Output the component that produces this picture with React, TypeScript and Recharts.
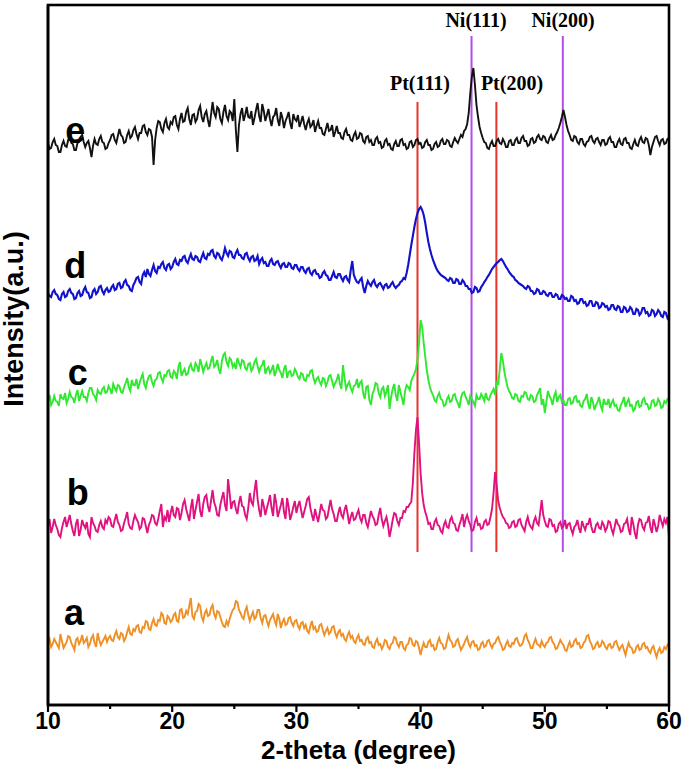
import React from 'react';
import { LineChart, Line, XAxis, YAxis, ReferenceLine, ReferenceDot } from 'recharts';

// 2-theta sampling: 10° .. 60° every 0.125°
const THETA_START = 10;
const THETA_STEP = 0.125;

// Stacked intensities (a.u., offsets included); one row = 5°
const seriesA = [
  62, 66, 58, 61, 66, 63, 60, 57, 71, 64, 57, 60, 63, 69, 68, 62, 59, 55, 65, 67, 61, 64, 70, 62, 64, 67, 58, 61, 67, 70, 62, 58, 72, 65, 60, 63, 66, 69, 63, 67,
  69, 65, 64, 70, 74, 68, 66, 72, 71, 64, 67, 73, 78, 71, 70, 76, 74, 79, 80, 73, 72, 78, 77, 84, 83, 76, 75, 82, 86, 80, 79, 85, 84, 92, 90, 82, 81, 89, 87, 83,
  85, 90, 92, 84, 83, 95, 96, 87, 88, 94, 91, 99, 107, 89, 86, 93, 94, 101, 99, 88, 84, 92, 95, 89, 90, 97, 100, 91, 87, 94, 93, 88, 83, 79, 78, 84, 80, 86, 91, 95,
  97, 104, 103, 95, 92, 88, 86, 94, 98, 90, 84, 89, 93, 86, 88, 95, 95, 87, 82, 89, 90, 84, 79, 85, 88, 91, 84, 80, 91, 86, 77, 83, 86, 80, 81, 87, 88, 82, 79, 84,
  85, 79, 76, 82, 83, 77, 80, 74, 72, 79, 84, 76, 78, 73, 74, 80, 81, 75, 70, 74, 77, 71, 73, 78, 79, 72, 68, 73, 75, 69, 71, 66, 64, 70, 73, 67, 69, 64, 62, 67,
  70, 64, 65, 61, 60, 66, 68, 62, 63, 58, 57, 63, 66, 60, 61, 56, 59, 65, 64, 58, 56, 61, 62, 68, 67, 61, 58, 63, 63, 57, 55, 60, 61, 67, 66, 60, 59, 64, 63, 57,
  50, 57, 62, 58, 58, 63, 65, 59, 60, 55, 56, 63, 67, 62, 61, 56, 57, 64, 70, 65, 63, 58, 59, 64, 66, 60, 55, 58, 61, 65, 68, 61, 58, 63, 64, 59, 60, 55, 56, 61,
  63, 58, 59, 64, 65, 60, 57, 61, 62, 66, 68, 63, 60, 55, 56, 61, 64, 59, 58, 62, 61, 66, 67, 62, 59, 60, 63, 69, 71, 65, 62, 57, 57, 62, 66, 61, 60, 58, 64, 60,
  58, 62, 63, 67, 68, 63, 61, 56, 57, 61, 65, 62, 60, 55, 54, 59, 63, 58, 59, 64, 66, 61, 62, 57, 58, 62, 64, 69, 70, 64, 61, 56, 57, 61, 63, 58, 59, 64, 62, 58,
  56, 60, 61, 57, 58, 63, 64, 59, 55, 58, 60, 55, 50, 57, 62, 58, 57, 52, 53, 58, 60, 55, 56, 61, 62, 57, 58, 54, 52, 57, 59, 53, 48, 54, 57, 52, 53, 58, 56, 60,
  58,
];

const seriesB = [
  180, 186, 172, 178, 186, 180, 176, 170, 168, 177, 183, 188, 178, 184, 190, 181, 174, 169, 181, 186, 169, 175, 185, 180, 177, 183, 171, 168, 188, 182, 179, 174, 173, 180, 184, 178, 176, 185, 182, 188,
  186, 179, 178, 185, 191, 183, 180, 174, 175, 182, 187, 193, 181, 177, 176, 184, 190, 186, 183, 176, 178, 187, 186, 179, 172, 180, 184, 190, 189, 182, 180, 186, 194, 201, 178, 188, 185, 195, 183, 192,
  199, 190, 188, 197, 196, 185, 192, 201, 205, 196, 190, 184, 197, 206, 186, 195, 203, 211, 194, 188, 201, 208, 210, 199, 193, 204, 215, 203, 198, 190, 189, 200, 207, 213, 200, 194, 226, 212, 196, 203,
  204, 196, 191, 202, 209, 199, 198, 190, 186, 197, 212, 203, 200, 214, 225, 206, 195, 188, 206, 199, 190, 197, 203, 210, 197, 189, 211, 202, 188, 194, 200, 207, 193, 186, 207, 198, 185, 191, 198, 204,
  192, 199, 204, 195, 187, 193, 199, 206, 208, 197, 190, 184, 196, 189, 183, 192, 201, 195, 194, 186, 188, 197, 205, 196, 191, 184, 184, 192, 198, 190, 187, 195, 200, 191, 181, 188, 193, 185, 186, 191,
  195, 187, 183, 190, 190, 182, 178, 186, 194, 189, 186, 180, 181, 190, 197, 186, 179, 184, 188, 180, 168, 176, 185, 192, 191, 184, 180, 187, 187, 194, 193, 198, 198, 201, 203, 222, 252, 275, 288, 262,
  232, 212, 200, 193, 188, 181, 182, 176, 176, 183, 186, 180, 179, 174, 172, 180, 184, 178, 177, 185, 188, 182, 181, 175, 174, 180, 185, 191, 178, 186, 190, 184, 180, 174, 175, 183, 187, 180, 181, 176,
  177, 183, 185, 180, 181, 188, 196, 212, 233, 220, 204, 197, 192, 188, 186, 182, 181, 177, 178, 183, 184, 178, 179, 185, 186, 180, 177, 174, 183, 188, 181, 178, 176, 184, 188, 182, 180, 192, 205, 190,
  184, 179, 178, 186, 185, 179, 180, 173, 174, 181, 183, 177, 179, 185, 176, 181, 182, 176, 171, 178, 180, 185, 177, 172, 184, 179, 175, 181, 181, 187, 178, 173, 173, 180, 182, 177, 176, 183, 180, 174,
  177, 184, 183, 176, 171, 178, 186, 181, 179, 173, 174, 181, 182, 186, 176, 170, 188, 181, 172, 166, 180, 186, 185, 178, 175, 182, 183, 189, 178, 172, 186, 180, 173, 179, 190, 184, 179, 186, 182, 188,
  168,
];

const seriesC = [
  305, 310, 300, 303, 309, 304, 303, 299, 311, 307, 306, 312, 302, 306, 313, 308, 307, 302, 310, 315, 304, 309, 314, 308, 308, 304, 312, 317, 317, 311, 309, 305, 315, 312, 311, 316, 318, 312, 313, 319,
  316, 311, 321, 317, 314, 320, 319, 313, 312, 318, 322, 327, 318, 314, 325, 320, 320, 326, 316, 322, 327, 331, 321, 317, 324, 329, 330, 323, 319, 325, 326, 332, 333, 327, 323, 330, 329, 334, 335, 328,
  327, 334, 332, 326, 338, 343, 329, 333, 336, 330, 331, 338, 341, 335, 334, 342, 339, 333, 346, 340, 333, 338, 342, 336, 337, 344, 349, 338, 340, 345, 336, 331, 344, 350, 352, 343, 339, 347, 345, 338,
  341, 336, 347, 342, 338, 345, 344, 337, 335, 341, 342, 334, 337, 343, 346, 339, 333, 338, 340, 345, 331, 336, 338, 332, 335, 340, 329, 334, 341, 335, 332, 327, 336, 340, 327, 333, 334, 329, 330, 336,
  333, 328, 326, 332, 331, 325, 324, 330, 329, 334, 335, 327, 322, 326, 328, 323, 320, 327, 326, 319, 323, 329, 330, 324, 318, 322, 325, 331, 321, 316, 340, 327, 316, 320, 323, 317, 313, 319, 320, 326,
  317, 322, 324, 312, 306, 318, 319, 305, 300, 311, 315, 322, 321, 312, 308, 316, 318, 309, 313, 320, 296, 308, 316, 321, 310, 304, 320, 313, 307, 300, 314, 320, 318, 315, 324, 328, 331, 336, 345, 362,
  385, 378, 362, 348, 335, 325, 318, 313, 310, 305, 303, 309, 312, 306, 305, 299, 300, 306, 309, 303, 304, 310, 311, 305, 302, 297, 307, 312, 313, 308, 305, 300, 309, 306, 303, 299, 310, 306, 306, 311,
  308, 304, 312, 306, 305, 310, 313, 316, 310, 324, 320, 336, 352, 344, 333, 325, 318, 314, 311, 307, 306, 311, 310, 304, 303, 309, 308, 313, 312, 306, 305, 310, 309, 303, 304, 310, 313, 317, 300, 306,
  292, 303, 314, 309, 306, 300, 309, 313, 303, 308, 310, 303, 305, 300, 300, 306, 307, 301, 302, 308, 309, 303, 304, 299, 298, 304, 306, 311, 301, 296, 308, 303, 295, 300, 303, 308, 299, 295, 306, 301,
  301, 306, 297, 302, 305, 299, 300, 295, 294, 300, 303, 308, 298, 303, 306, 299, 300, 294, 296, 303, 304, 298, 299, 305, 307, 301, 301, 296, 297, 304, 305, 299, 300, 306, 303, 297, 298, 304, 302, 306,
  307,
];

const seriesD = [
  412, 409, 408, 413, 415, 411, 410, 406, 405, 411, 413, 408, 409, 414, 416, 412, 411, 406, 407, 412, 414, 409, 410, 415, 418, 413, 412, 407, 408, 414, 416, 411, 413, 418, 419, 414, 411, 415, 417, 413,
  414, 418, 420, 415, 416, 421, 422, 417, 418, 423, 425, 420, 419, 415, 414, 420, 423, 427, 428, 423, 421, 430, 433, 428, 436, 431, 429, 435, 440, 434, 432, 438, 437, 441, 443, 437, 435, 440, 441, 436,
  438, 443, 446, 441, 440, 445, 444, 448, 449, 444, 442, 447, 451, 446, 445, 449, 448, 444, 443, 448, 452, 447, 446, 451, 450, 454, 455, 449, 447, 452, 451, 447, 445, 450, 457, 452, 449, 454, 453, 448,
  447, 452, 455, 450, 450, 447, 446, 451, 452, 447, 444, 448, 449, 444, 445, 449, 441, 445, 447, 442, 443, 439, 439, 444, 446, 441, 440, 443, 444, 440, 437, 441, 442, 438, 438, 442, 441, 437, 436, 440,
  440, 436, 434, 438, 438, 434, 432, 436, 437, 432, 430, 434, 435, 431, 431, 427, 428, 432, 434, 430, 429, 425, 425, 429, 433, 428, 427, 431, 431, 427, 424, 428, 429, 425, 423, 435, 444, 430, 426, 423,
  422, 425, 427, 418, 412, 419, 424, 421, 419, 423, 425, 420, 418, 421, 422, 419, 416, 420, 421, 417, 418, 421, 423, 419, 417, 419, 420, 423, 424, 427, 426, 432, 440, 450, 460, 469, 478, 486, 492, 496,
  498, 495, 490, 482, 472, 463, 456, 450, 445, 441, 437, 434, 432, 430, 429, 428, 427, 425, 424, 427, 426, 422, 422, 426, 425, 421, 421, 425, 423, 419, 419, 416, 416, 412, 413, 418, 417, 413, 414, 418,
  420, 423, 425, 428, 430, 433, 436, 438, 440, 442, 443, 445, 446, 444, 441, 438, 436, 433, 431, 429, 428, 425, 424, 422, 421, 420, 419, 417, 416, 419, 418, 414, 414, 411, 412, 416, 415, 411, 411, 414,
  413, 410, 409, 412, 412, 408, 408, 411, 410, 406, 406, 410, 409, 406, 407, 404, 404, 409, 408, 404, 405, 401, 402, 406, 406, 402, 403, 399, 400, 404, 404, 399, 399, 403, 402, 397, 398, 402, 401, 398,
  399, 395, 396, 400, 400, 396, 395, 399, 398, 393, 393, 398, 397, 393, 394, 398, 396, 391, 391, 396, 395, 390, 392, 397, 397, 392, 393, 389, 390, 395, 394, 389, 391, 395, 393, 389, 388, 393, 392, 387,
  390,
];

const seriesE = [
  562, 556, 557, 563, 566, 560, 559, 553, 553, 560, 564, 559, 558, 565, 567, 562, 561, 555, 555, 562, 563, 568, 570, 563, 558, 562, 564, 557, 548, 559, 566, 561, 560, 566, 569, 563, 562, 556, 557, 562,
  565, 570, 571, 565, 562, 569, 576, 570, 568, 562, 563, 570, 574, 567, 569, 575, 578, 571, 566, 572, 572, 579, 580, 573, 570, 576, 575, 568, 540, 565, 577, 584, 583, 576, 573, 582, 586, 578, 576, 583,
  581, 588, 589, 580, 576, 586, 592, 583, 584, 593, 597, 586, 580, 590, 591, 583, 586, 595, 599, 588, 583, 591, 594, 585, 578, 590, 603, 592, 588, 598, 596, 586, 582, 593, 600, 589, 585, 594, 592, 584,
  606, 575, 553, 580, 591, 597, 584, 590, 598, 588, 587, 594, 580, 587, 595, 602, 589, 583, 601, 594, 584, 590, 596, 586, 579, 588, 590, 597, 585, 579, 593, 587, 577, 584, 588, 593, 582, 576, 591, 586,
  584, 590, 578, 583, 589, 581, 575, 582, 586, 578, 580, 585, 573, 579, 584, 577, 577, 571, 570, 576, 582, 574, 575, 580, 568, 573, 579, 572, 572, 567, 566, 573, 576, 570, 570, 565, 564, 570, 573, 566,
  567, 572, 571, 564, 562, 568, 569, 563, 565, 560, 560, 566, 568, 562, 563, 557, 558, 564, 566, 560, 561, 556, 555, 561, 564, 559, 559, 565, 566, 560, 561, 556, 557, 563, 564, 558, 560, 565, 566, 561,
  562, 557, 558, 563, 565, 560, 560, 555, 556, 561, 563, 558, 559, 564, 566, 561, 561, 565, 564, 559, 558, 563, 567, 564, 562, 566, 570, 568, 574, 576, 581, 592, 612, 628, 637, 620, 600, 588, 578, 572,
  567, 563, 562, 557, 556, 561, 564, 559, 559, 564, 566, 562, 561, 566, 563, 558, 558, 564, 565, 560, 560, 565, 567, 562, 562, 567, 569, 564, 564, 559, 560, 566, 567, 562, 563, 568, 570, 566, 565, 569,
  568, 563, 562, 567, 570, 565, 566, 570, 573, 577, 582, 588, 595, 588, 580, 574, 570, 565, 564, 569, 568, 563, 561, 566, 566, 561, 559, 563, 564, 568, 569, 564, 562, 566, 567, 563, 560, 565, 565, 560,
  561, 566, 568, 563, 563, 558, 558, 563, 566, 561, 560, 566, 567, 562, 562, 557, 556, 561, 565, 560, 559, 565, 568, 563, 562, 567, 566, 560, 550, 558, 563, 568, 569, 564, 560, 565, 566, 561, 562, 566,
  567,
];

// Axis ticks
const xTicks = [10, 15, 20, 25, 30, 35, 40, 45, 50, 55, 60];
const xMajorTicks = [10, 20, 30, 40, 50, 60];
const X_DOMAIN: [number, number] = [10, 60];
const Y_DOMAIN: [number, number] = [0, 700];

// Curve letters: [label, 2-theta, intensity]
const curveLabels: [string, number, number][] = [
  ['e', 12.2, 575],
  ['d', 12.2, 440],
  ['c', 12.4, 333],
  ['b', 12.4, 213],
  ['a', 12.1, 93],
];

// Diffraction reference lines: [name, 2-theta, top intensity, label 2-theta, label intensity]
const ptLines: [string, number, number, number, number][] = [
  ['Pt(111)', 39.75, 603, 39.95, 622],
  ['Pt(200)', 46.1, 603, 47.36, 622],
];
const niLines: [string, number, number, number, number][] = [
  ['Ni(111)', 44.1, 669, 44.46, 685],
  ['Ni(200)', 51.45, 669, 51.47, 685],
];
const lineBottom = 153;

// Layout
const CHART_W = 685;
const CHART_H = 767;
const MARGIN = { top: 5, right: 16, bottom: 0, left: 0 };
const Y_AXIS_W = 48;
const X_AXIS_H = 62;
const FRAME_W = 2.6;
const PLOT_LEFT = MARGIN.left + Y_AXIS_W;
const PLOT_TOP = MARGIN.top;
const PLOT_W = CHART_W - MARGIN.right - PLOT_LEFT;
const PLOT_H = CHART_H - MARGIN.bottom - X_AXIS_H - PLOT_TOP;
const X_MID = (X_DOMAIN[0] + X_DOMAIN[1]) / 2;
const Y_MID = (Y_DOMAIN[0] + Y_DOMAIN[1]) / 2;

const SANS = "'Liberation Sans', Arial, Helvetica, sans-serif";
const SERIF = "'Liberation Serif', 'Times New Roman', serif";

const data = seriesA.map((_, i) => ({
  x: THETA_START + i * THETA_STEP,
  a: seriesA[i],
  b: seriesB[i],
  c: seriesC[i],
  d: seriesD[i],
  e: seriesE[i],
}));

const XTick = (props: any) => {
  const { x, y, payload } = props;
  const v = payload.value;
  const major = xMajorTicks.includes(v);
  return (
    <g>
      <line x1={x} x2={x} y1={y} y2={y + (major ? 7 : 4)} stroke="#000" strokeWidth={2.2} />
      {major && (
        <text x={x} y={y + 24} textAnchor="middle" fontFamily={SANS} fontWeight="bold" fontSize={23} fill="#000">
          {v}
        </text>
      )}
    </g>
  );
};

const XTitle = (props: any) => {
  const vb = props.viewBox;
  return (
    <text x={vb.x + vb.width / 2} y={vb.y + 54} textAnchor="middle" fontFamily={SANS} fontWeight="bold" fontSize={26} fill="#000">
      2-theta (degree)
    </text>
  );
};

const YTitle = (props: any) => {
  const vb = props.viewBox;
  const cx = vb.x + 23;
  const cy = vb.y + vb.height / 2 - 36;
  return (
    <text x={cx} y={cy} transform={`rotate(-90, ${cx}, ${cy})`} textAnchor="middle" fontFamily={SANS} fontWeight="bold" fontSize={27} fill="#000">
      Intensity(a.u.)
    </text>
  );
};

// Plot frame drawn around the centre of the plot area
const FrameShape = (props: any) => {
  const { cx, cy } = props;
  if (cx == null || cy == null) return null;
  return (
    <rect
      x={cx - PLOT_W / 2}
      y={cy - PLOT_H / 2}
      width={PLOT_W}
      height={PLOT_H}
      fill="none"
      stroke="#000"
      strokeWidth={FRAME_W}
    />
  );
};

export default function App() {
  return (
    <div style={{ position: 'absolute', left: 0, top: 0, width: CHART_W, height: CHART_H, background: '#fff' }}>
      <LineChart width={CHART_W} height={CHART_H} data={data} margin={MARGIN}>
        <XAxis
          type="number"
          dataKey="x"
          domain={X_DOMAIN}
          ticks={xTicks}
          interval={0}
          height={X_AXIS_H}
          tickSize={0}
          tickMargin={0}
          tickLine={false}
          axisLine={{ stroke: '#000', strokeWidth: FRAME_W }}
          tick={<XTick />}
          allowDataOverflow
          label={{ content: <XTitle /> }}
        />
        <YAxis
          type="number"
          domain={Y_DOMAIN}
          width={Y_AXIS_W}
          tick={false}
          tickLine={false}
          axisLine={{ stroke: '#000', strokeWidth: FRAME_W }}
          allowDataOverflow
          label={{ content: <YTitle /> }}
        />
        <ReferenceDot x={X_MID} y={Y_MID} r={1} shape={<FrameShape />} ifOverflow="visible" />
        {ptLines.map(([name, x, top]) => (
          <ReferenceLine key={name} segment={[{ x, y: lineBottom }, { x, y: top }]} stroke="#E8342C" strokeWidth={2} />
        ))}
        {niLines.map(([name, x, top]) => (
          <ReferenceLine key={name} segment={[{ x, y: lineBottom }, { x, y: top }]} stroke="#B44DE8" strokeWidth={2} />
        ))}
        <Line type="linear" dataKey="a" stroke="#EE9025" strokeWidth={1.9} dot={false} isAnimationActive={false} />
        <Line type="linear" dataKey="b" stroke="#E0127F" strokeWidth={1.9} dot={false} isAnimationActive={false} />
        <Line type="linear" dataKey="c" stroke="#30E830" strokeWidth={1.9} dot={false} isAnimationActive={false} />
        <Line type="linear" dataKey="d" stroke="#1212CC" strokeWidth={2.1} dot={false} isAnimationActive={false} />
        <Line type="linear" dataKey="e" stroke="#111111" strokeWidth={1.9} dot={false} isAnimationActive={false} />
        {[...ptLines, ...niLines].map(([name, , , lx, ly]) => (
          <ReferenceDot
            key={'lbl-' + name}
            x={lx}
            y={ly}
            r={1}
            fill="none"
            stroke="none"
            label={{ value: name, position: 'center', fontFamily: SERIF, fontWeight: 'bold', fontSize: 20, fill: '#000' }}
          />
        ))}
        {curveLabels.map(([name, x, y]) => (
          <ReferenceDot
            key={'curve-' + name}
            x={x}
            y={y}
            r={1}
            fill="none"
            stroke="none"
            label={{ value: name, position: 'center', fontFamily: SANS, fontWeight: 'bold', fontSize: 36, fill: '#000' }}
          />
        ))}
      </LineChart>
      {/* plot frame (HTML overlay, same extent) */}
      <div
        style={{
          position: 'absolute',
          left: PLOT_LEFT - FRAME_W / 2,
          top: PLOT_TOP - FRAME_W / 2,
          width: PLOT_W + FRAME_W,
          height: PLOT_H + FRAME_W,
          border: `${FRAME_W}px solid #000`,
          boxSizing: 'border-box',
          pointerEvents: 'none',
        }}
      />
    </div>
  );
}
